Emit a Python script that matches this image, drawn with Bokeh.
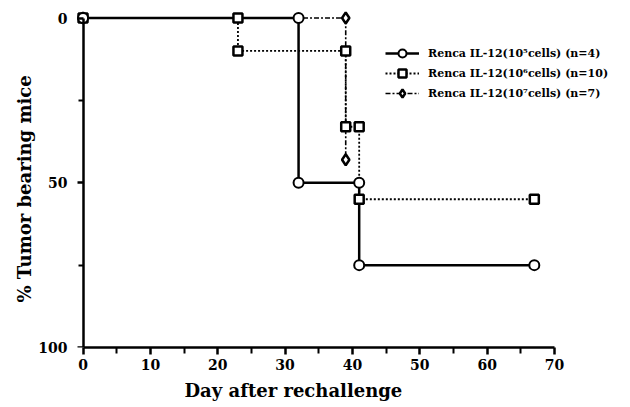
from bokeh.plotting import figure
from bokeh.models import Range1d, LinearAxis, FixedTicker, Legend, LegendItem, Title
from bokeh.embed import file_html
from bokeh.resources import INLINE

# Survival-style step curves (% tumor bearing mice vs day after rechallenge)
days_1 = [0, 32, 32, 41, 41, 67]
pct_1 = [0, 0, 50, 50, 75, 75]
days_2 = [0, 23, 23, 39, 39, 41, 41, 67]
pct_2 = [0, 0, 10, 10, 33, 33, 55, 55]
days_3 = [0, 39, 39]
pct_3 = [0, 0, 43]
labels = ["Renca IL-12(10\u2075cells) (n=4)",
          "Renca IL-12(10\u2076cells) (n=10)",
          "Renca IL-12(10\u2077cells) (n=7)"]
x_ticks = [0, 10, 20, 30, 40, 50, 60, 70]
x_minor = [5, 15, 25, 35, 45, 55, 65]
y_ticks = [0, 50, 100]
y_minor = [25, 75]

FONT = "DejaVu Serif"

p = figure(width=630, height=407, output_backend="svg", toolbar_location=None,
           x_range=Range1d(-1.86, 81.28), y_range=Range1d(100, -3.8),
           x_axis_location=None, y_axis_location=None,
           min_border_left=70, min_border_right=0, min_border_top=5,
           min_border_bottom=60)
p.outline_line_color = None
p.background_fill_color = "white"
p.border_fill_color = "white"
p.grid.visible = False


def style_axis(ax):
    ax.axis_line_width = 2.5
    ax.axis_line_color = "black"
    ax.major_tick_line_width = 2.5
    ax.minor_tick_line_width = 2
    ax.major_tick_in = 0
    ax.major_tick_out = 7
    ax.minor_tick_in = 0
    ax.minor_tick_out = 6
    ax.major_label_text_font = FONT
    ax.major_label_text_font_style = "bold"
    ax.major_label_text_font_size = "14px"
    ax.major_label_text_color = "black"


xaxis = LinearAxis(bounds=(0, 70),
                   ticker=FixedTicker(ticks=x_ticks, minor_ticks=x_minor))
style_axis(xaxis)
xaxis.major_label_standoff = 4

# y axis line + ticks drawn at day 0
yaxis = LinearAxis(bounds=(0, 100), fixed_location=0,
                   ticker=FixedTicker(ticks=y_ticks, minor_ticks=y_minor))
style_axis(yaxis)
yaxis.major_tick_out = 6
yaxis.minor_tick_out = 5
yaxis.major_label_text_alpha = 0

# y tick labels
ylabels = LinearAxis(ticker=FixedTicker(ticks=y_ticks, minor_ticks=[]))
style_axis(ylabels)
ylabels.axis_line_color = None
ylabels.major_tick_line_color = None
ylabels.minor_tick_line_color = None
ylabels.major_tick_out = 0
ylabels.minor_tick_out = 0
ylabels.major_label_standoff = 3

p.add_layout(xaxis, "below")
p.add_layout(yaxis, "left")
p.add_layout(ylabels, "left")

p.add_layout(Title(text="Day after rechallenge", align="left", offset=114,
                   text_font=FONT, text_font_style="bold", text_color="black",
                   text_font_size="18px", standoff=10), "below")
p.add_layout(Title(text="% Tumor bearing mice", align="left", offset=45,
                   text_font=FONT, text_font_style="bold", text_color="black",
                   text_font_size="18px", standoff=2), "left")

l3 = p.line(days_3, pct_3, line_width=1.6, color="black", line_dash="5 2 2 2")
l2 = p.line(days_2, pct_2, line_width=1.8, color="black", line_dash="2 2")
l1 = p.line(days_1, pct_1, line_width=2.5, color="black")

s3 = p.scatter(days_3, pct_3, marker="diamond", size=11, fill_color="white",
               line_color="black", line_width=2.5)
s2 = p.scatter(days_2, pct_2, marker="square", size=9, fill_color="white",
               line_color="black", line_width=2.5)
s1 = p.scatter(days_1, pct_1, marker="circle", size=10, fill_color="white",
               line_color="black", line_width=2)

legend = Legend(items=[LegendItem(label=labels[0], renderers=[l1, s1]),
                       LegendItem(label=labels[1], renderers=[l2, s2]),
                       LegendItem(label=labels[2], renderers=[l3, s3])],
                location=(315, 244))
legend.background_fill_alpha = 0
legend.border_line_color = None
legend.padding = 0
legend.margin = 0
legend.spacing = 0
legend.glyph_width = 34
legend.glyph_height = 20
legend.label_height = 20
legend.label_standoff = 9
legend.label_text_font = FONT
legend.label_text_font_style = "bold"
legend.label_text_font_size = "11px"
legend.label_text_color = "black"
p.add_layout(legend)

open("out.html", "w").write(file_html(p, INLINE))
